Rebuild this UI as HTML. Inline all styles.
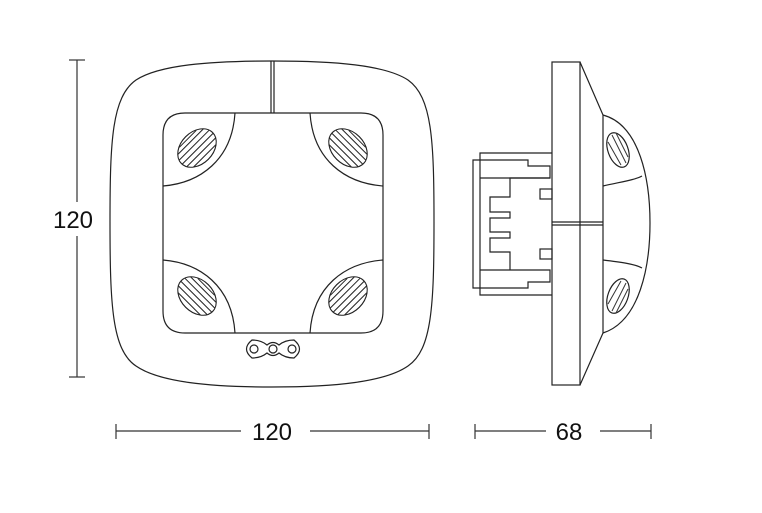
<!DOCTYPE html>
<html><head><style>html,body{margin:0;padding:0;background:#fff}svg{display:block}text{font-family:"Liberation Sans",sans-serif;font-size:24px;fill:#111}</style></head>
<body>
<svg width="762" height="513" viewBox="0 0 762 513" xmlns="http://www.w3.org/2000/svg">
<defs>
<g id="hole">
<ellipse cx="0" cy="0" rx="22" ry="16" fill="#fff" stroke="#222" stroke-width="1.1"/>
<g stroke="#222" stroke-width="1" fill="none">
<line x1="-18" y1="-9" x2="18" y2="-9"/><line x1="-21" y1="-4" x2="21" y2="-4"/>
<line x1="-22" y1="1" x2="22" y2="1"/><line x1="-20" y1="6" x2="20" y2="6"/>
<line x1="-16" y1="11" x2="16" y2="11"/><line x1="-12" y1="-13" x2="12" y2="-13"/>
</g>
</g>
</defs>
<g fill="none" stroke="#222" stroke-width="1.2">
<path d="M272,61 C335,61 385,65 408,80 C432,97 434,140 434,222 C434,305 432,350 408,366 C385,382 335,387 272,387 C209,387 159,382 136,366 C112,350 110,305 110,222 C110,140 112,97 136,80 C159,65 209,61 272,61 Z"/>
<line x1="271" y1="61" x2="271" y2="113"/><line x1="274" y1="61" x2="274" y2="113"/>
<path d="M185,113 L361,113 Q383,113 383,135 L383,311 Q383,333 361,333 L185,333 Q163,333 163,311 L163,135 Q163,113 185,113 Z"/>
<path d="M235,113 C232,160 200,183 163,186"/>
<path d="M310,113 C313,160 345,183 383,186"/>
<path d="M163,260 C200,263 232,286 235,333"/>
<path d="M383,260 C345,263 313,286 310,333"/>
<path d="M252,340 Q261,340 267,345 Q273,340 279,345 Q285,340 294,340 Q305,349 294,358 Q285,358 279,353 Q273,358 267,353 Q261,358 252,358 Q241,349 252,340 Z"/>
<circle cx="254" cy="349" r="4"/><circle cx="273" cy="349" r="4"/><circle cx="292" cy="349" r="4"/>
</g>
<use href="#hole" transform="translate(197,148) rotate(-45)"/>
<use href="#hole" transform="translate(348,148) rotate(45)"/>
<use href="#hole" transform="translate(197,296) rotate(45)"/>
<use href="#hole" transform="translate(348,296) rotate(-45)"/>
<g fill="none" stroke="#222" stroke-width="1.2">
<rect x="552" y="62" width="28" height="323"/>
<path d="M580,62 L603,115 L603,333 L580,385"/>
<path d="M603,115 C640,125 650,180 650,223 C650,266 640,321 603,333"/>
<path d="M603,186 C620,182 635,180 642,176"/>
<path d="M603,260 C620,262 635,264 642,268"/>
<line x1="552" y1="222" x2="603" y2="222"/><line x1="552" y1="225" x2="603" y2="225"/>
<path d="M552,153 L480,153 L480,295 L552,295"/>
<path d="M480,160 L473,160 L473,288 L480,288"/>
<path d="M480,178 L550,178 L550,166 L528,166 L528,160 L480,160"/>
<path d="M480,270 L550,270 L550,282 L528,282 L528,288 L480,288"/>
<path d="M550,178 L510,178 L510,197 L490,197 L490,212 L510,212 L510,218 L490,218 L490,232 L510,232 L510,238 L490,238 L490,252 L510,252 L510,270"/>
<rect x="540" y="189" width="12" height="10"/>
<rect x="540" y="249" width="12" height="10"/>
<ellipse cx="618" cy="150" rx="10" ry="18" transform="rotate(-20 618 150)"/>
<ellipse cx="618" cy="296" rx="10" ry="18" transform="rotate(20 618 296)"/>
</g>
<g stroke="#333" stroke-width="1">
<line x1="612" y1="135" x2="626" y2="163"/><line x1="608" y1="142" x2="621" y2="165"/><line x1="616" y1="133" x2="628" y2="157"/>
<line x1="612" y1="311" x2="626" y2="283"/><line x1="608" y1="304" x2="621" y2="281"/><line x1="616" y1="313" x2="628" y2="289"/>
</g>
<g stroke="#333" stroke-width="1.2">
<line x1="77" y1="60" x2="77" y2="377"/><line x1="69" y1="60" x2="85" y2="60"/><line x1="69" y1="377" x2="85" y2="377"/>
<line x1="116" y1="431" x2="241" y2="431"/><line x1="310" y1="431" x2="429" y2="431"/>
<line x1="116" y1="424" x2="116" y2="439"/><line x1="429" y1="424" x2="429" y2="439"/>
<line x1="475" y1="431" x2="546" y2="431"/><line x1="600" y1="431" x2="651" y2="431"/>
<line x1="475" y1="424" x2="475" y2="439"/><line x1="651" y1="424" x2="651" y2="439"/>
</g>
<rect x="55" y="202" width="44" height="34" fill="#fff"/>
<text x="73" y="228" text-anchor="middle">120</text>
<text x="272" y="440" text-anchor="middle">120</text>
<text x="569" y="440" text-anchor="middle">68</text>
</svg>
</body></html>
